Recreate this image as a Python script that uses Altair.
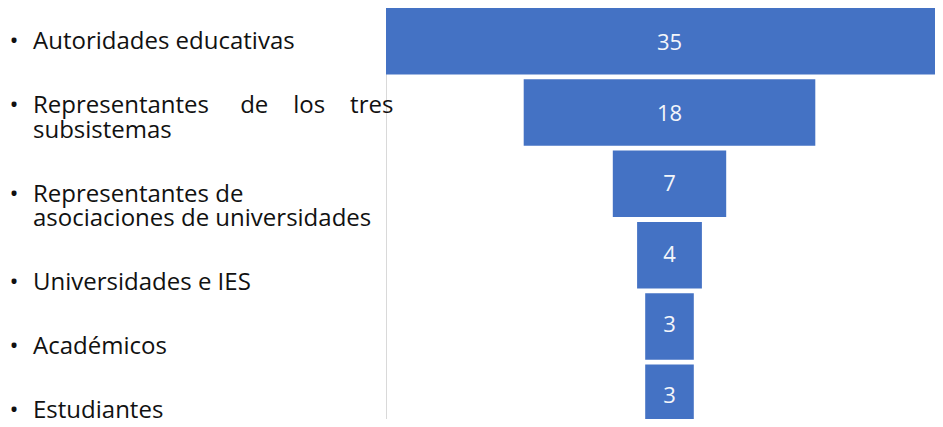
import altair as alt
import pandas as pd

NB = "\u00a0"

categories = [
    "Autoridades educativas",
    "Representantes de los tres subsistemas",
    "Representantes de asociaciones de universidades",
    "Universidades e IES",
    "Académicos",
    "Estudiantes",
]
values = [35, 18, 7, 4, 3, 3]

label_lines = [
    ["Autoridades educativas"],
    ["Representantes" + NB * 5 + "de" + NB * 4 + "los" + NB * 4 + "tres", "subsistemas"],
    ["Representantes de", "asociaciones de universidades"],
    ["Universidades e IES"],
    ["Académicos"],
    ["Estudiantes"],
]

# layout of the bulleted text list (pixels in view coordinates)
FIRST_BASELINE = 41
LINE_H = 24.5
PARA = 64

bars_df = pd.DataFrame({"category": categories, "value": values})
bars_df["lo"] = -bars_df["value"] / 2
bars_df["hi"] = bars_df["value"] / 2

rows = []
cur = FIRST_BASELINE
for lines in label_lines:
    rows.append({"line": "\n".join(lines), "ypos": cur})
    cur += (len(lines) - 1) * LINE_H + PARA
lines_df = pd.DataFrame(rows)

VIEW_W = 549
VIEW_H = 411
PX_PER_UNIT = 16.2
CENTER = 283.5

yband = alt.Y(
    "category:N",
    sort=categories,
    axis=None,
    scale=alt.Scale(paddingInner=0.067, paddingOuter=0, range=[0, 423]),
)
xscale = alt.Scale(
    domain=[-CENTER / PX_PER_UNIT, (VIEW_W - CENTER) / PX_PER_UNIT],
    nice=False,
    zero=False,
)

bars = alt.Chart(bars_df).mark_bar(color="#4472C4", clip=True).encode(
    y=yband,
    x=alt.X("lo:Q", scale=xscale, axis=None),
    x2="hi:Q",
)

nums = alt.Chart(bars_df).mark_text(
    color="#F4F6FA", font="Open Sans", fontSize=22, baseline="middle", align="center"
).encode(
    y=yband,
    x=alt.datum(0),
    text="value:Q",
)

text_list = alt.Chart(lines_df).mark_text(
    align="left",
    baseline="alphabetic",
    font="Open Sans",
    fontSize=24,
    color="#111111",
    lineBreak="\n",
    lineHeight=LINE_H,
).encode(
    x=alt.value(-353),
    y=alt.Y("ypos:Q", scale=None),
    text="line:N",
)

bullets = alt.Chart(lines_df).mark_text(
    align="center", baseline="alphabetic", font="Open Sans", fontSize=24, color="#111111"
).encode(
    x=alt.value(-372),
    y=alt.Y("ypos:Q", scale=None),
    text=alt.value("•"),
)

chart = (
    alt.layer(bars, nums, text_list, bullets)
    .resolve_scale(y="independent")
    .properties(
        width=VIEW_W,
        height=VIEW_H,
        padding={"left": 378, "top": 0, "right": 0, "bottom": 0},
        autosize=alt.AutoSizeParams(type="none"),
    )
    .configure_view(stroke="#d9d9d9", strokeWidth=1)
)

chart.save("out.html", embed_options={"renderer": "svg", "actions": False})
